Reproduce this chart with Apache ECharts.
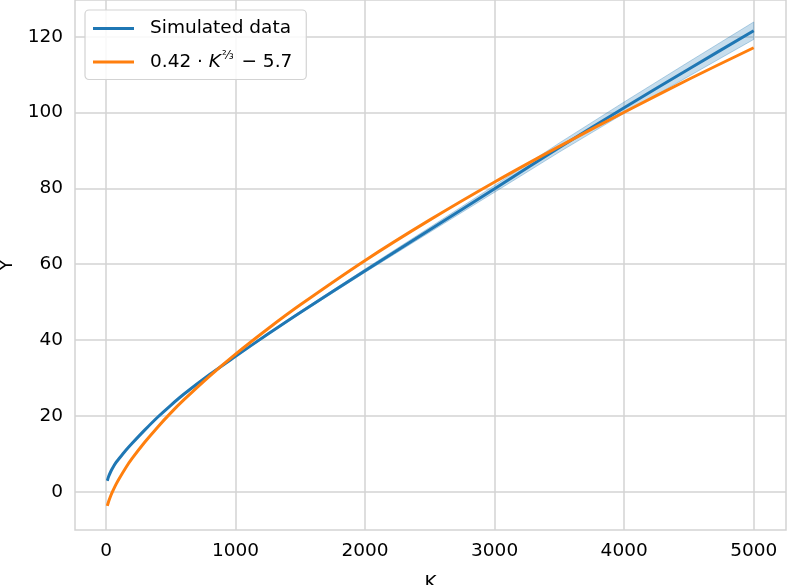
<!DOCTYPE html>
<html>
<head>
<meta charset="utf-8">
<script src="https://cdn.jsdelivr.net/npm/echarts@6/dist/echarts.min.js"></script>
<style>
  html, body { margin: 0; padding: 0; background: #fff; }
  #chart { width: 787px; height: 585px; }
</style>
</head>
<body>
<div id="chart"></div>
<script>
const kValues = [10, 20, 35, 50, 75, 100, 150, 200, 300, 400, 500, 600, 800, 1000, 1250, 1500, 2000, 2500, 3000, 3500, 4000, 4500, 5000];
const simulated = [2.9, 4.0, 5.2, 6.2, 7.6, 8.7, 10.8, 12.7, 16.3, 19.7, 22.8, 25.7, 30.9, 35.7, 41.6, 47.3, 58.3, 69.1, 79.9, 90.8, 101.3, 111.5, 121.6];
const bandHalf = [0.1, 0.1, 0.1, 0.1, 0.1, 0.1, 0.1, 0.1, 0.1, 0.1, 0.1, 0.1, 0.15, 0.2, 0.25, 0.3, 0.45, 0.65, 0.9, 1.2, 1.5, 1.9, 2.3];
const fitted = [-3.75, -2.6, -1.2, 0.0, 1.8, 3.35, 6.2, 8.7, 13.1, 17.1, 20.8, 24.2, 30.5, 36.3, 43.0, 49.3, 61.0, 71.7, 81.7, 91.1, 100.1, 108.8, 117.1];
const xTicks = [0, 1000, 2000, 3000, 4000, 5000];
const yTicks = [0, 20, 40, 60, 80, 100, 120];

const SIM_NAME = 'Simulated data';
const FIT_NAME = 'fit';
const blue = '#1f77b4';
const orange = '#ff7f0e';
const gridColor = '#d3d3d3';
const font = 'DejaVu Sans';
const fontSize = 18.5;

const pairs = (ys) => kValues.map((k, i) => [k, ys[i]]);
const upper = simulated.map((v, i) => v + bandHalf[i]);
const lower = simulated.map((v, i) => v - bandHalf[i]);

const chart = echarts.init(document.getElementById('chart'), null, { renderer: 'canvas' });

chart.setOption({
  animation: false,
  backgroundColor: '#fff',
  grid: {
    left: 75, right: 1, top: 0, bottom: 55,
    containLabel: false,
    outerBoundsMode: 'none',
    show: true,
    borderColor: gridColor,
    borderWidth: 1.5
  },
  legend: {
    left: 85,
    top: 10,
    orient: 'vertical',
    icon: 'rect',
    itemWidth: 41,
    itemHeight: 3,
    itemGap: 12,
    padding: [9, 14, 8, 8],
    backgroundColor: 'rgba(255,255,255,0.85)',
    borderColor: gridColor,
    borderWidth: 1.2,
    borderRadius: 4,
    data: [SIM_NAME, FIT_NAME],
    formatter: (name) => name === FIT_NAME
      ? '{n|0.42 · }{k|K}{s|⅔}{n| − 5.7}'
      : '{n|' + name + '}',
    textStyle: {
      rich: {
        n: { fontFamily: font, fontSize: fontSize, color: '#000' },
        k: { fontFamily: font, fontSize: fontSize, fontStyle: 'italic', color: '#000' },
        s: { fontFamily: font, fontSize: 12, color: '#000', padding: [0, 2, 12, 1] }
      },
      padding: [0, 0, 0, 11]
    }
  },
  xAxis: {
    type: 'value',
    min: -239.5,
    max: 5249.5,
    name: 'K',
    nameLocation: 'middle',
    nameGap: 44,
    nameTextStyle: { fontFamily: font, fontSize: fontSize, color: '#000' },
    axisLine: { show: false },
    axisTick: { show: false, customValues: xTicks },
    axisLabel: {
      customValues: xTicks,
      formatter: (v) => String(v),
      fontFamily: font, fontSize: fontSize, color: '#000', margin: 12
    },
    splitLine: { show: true, lineStyle: { color: gridColor, width: 1.5 } }
  },
  yAxis: {
    type: 'value',
    min: -10.1,
    max: 129.7,
    name: 'Y',
    nameLocation: 'middle',
    nameGap: 57,
    nameRotate: 90,
    nameTextStyle: { fontFamily: font, fontSize: fontSize, color: '#000' },
    axisLine: { show: false },
    axisTick: { show: false, customValues: yTicks },
    axisLabel: {
      customValues: yTicks,
      formatter: (v) => String(v),
      fontFamily: font, fontSize: fontSize, color: '#000', margin: 12
    },
    splitLine: { show: true, lineStyle: { color: gridColor, width: 1.5 } }
  },
  series: [
    {
      name: 'band',
      type: 'custom',
      silent: true,
      z: 1,
      data: [0],
      renderItem: (params, api) => {
        const top = kValues.map((k, i) => api.coord([k, upper[i]]));
        const bottom = kValues.map((k, i) => api.coord([k, lower[i]])).reverse();
        return {
          type: 'polygon',
          shape: { points: top.concat(bottom) },
          style: { fill: 'rgba(31,119,180,0.25)', stroke: 'rgba(31,119,180,0.3)', lineWidth: 1 }
        };
      }
    },
    {
      name: SIM_NAME,
      type: 'line',
      z: 3,
      data: pairs(simulated),
      smooth: 0.3,
      symbol: 'none',
      lineStyle: { color: blue, width: 3 },
      itemStyle: { color: blue }
    },
    {
      name: FIT_NAME,
      type: 'line',
      z: 4,
      data: pairs(fitted),
      smooth: 0.3,
      symbol: 'none',
      lineStyle: { color: orange, width: 3 },
      itemStyle: { color: orange }
    }
  ]
});
</script>
</body>
</html>
